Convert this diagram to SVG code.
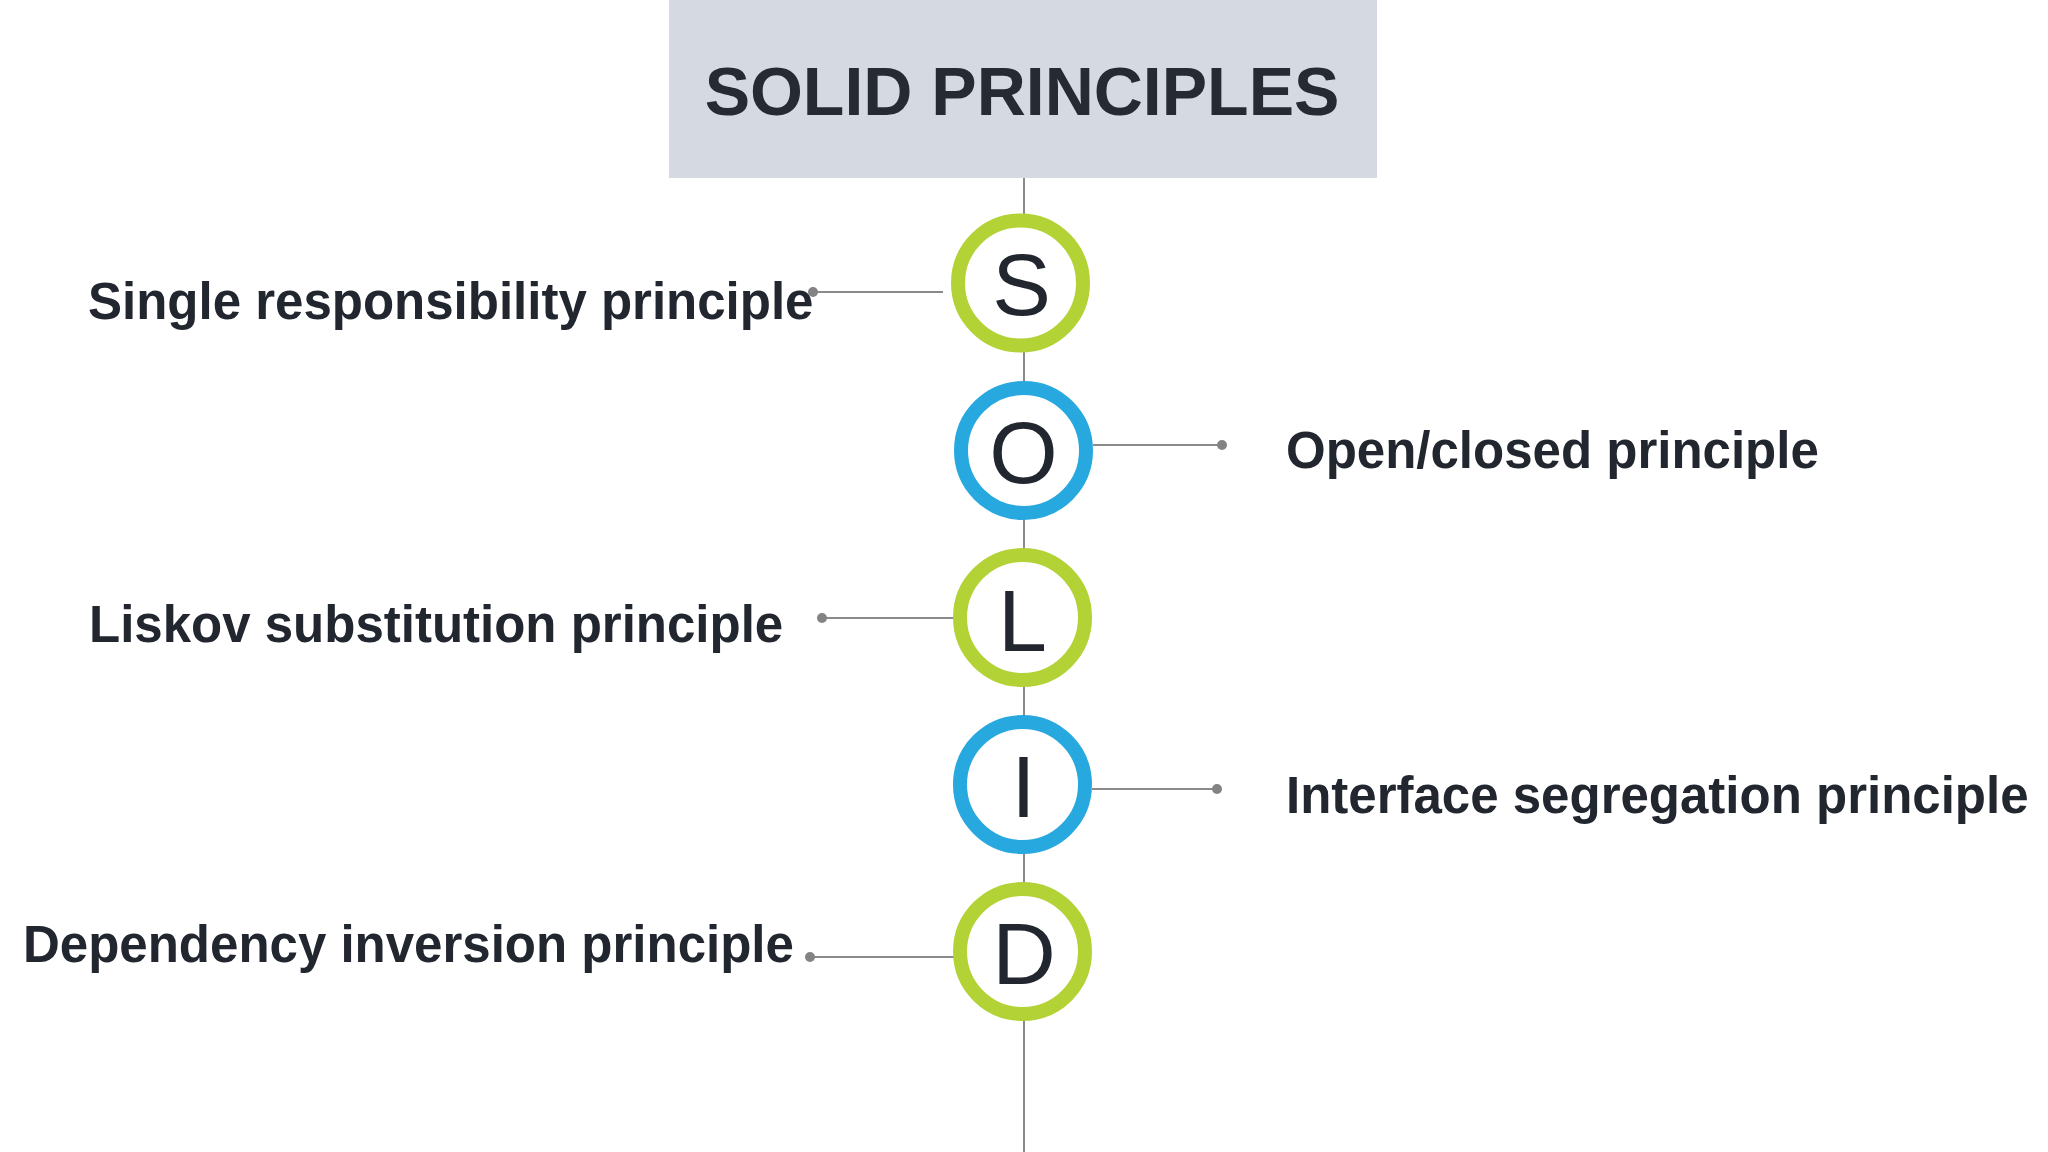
<svg xmlns="http://www.w3.org/2000/svg" width="2048" height="1152" viewBox="0 0 2048 1152">
  <defs>
    <style>
      .title { font-family: "Liberation Sans", Arial, sans-serif; font-weight: bold; font-size: 68px; fill: #252a33; }
      .label { font-family: "Liberation Sans", Arial, sans-serif; font-weight: bold; font-size: 51px; fill: #22262f; }
      .letter { font-family: "Liberation Sans", Arial, sans-serif; font-size: 88px; fill: #22262f; text-anchor: middle; }
      .ring { fill: #ffffff; stroke-width: 14; }
      .green { stroke: #b3d236; }
      .blue { stroke: #27a9e0; }
      .conn { stroke: #8a8a8a; stroke-width: 2; fill: none; }
      .dot { fill: #838383; }
    </style>
  </defs>
  <rect width="2048" height="1152" fill="#ffffff"/>

  <g id="title">
    <rect x="669" y="0" width="708" height="178" fill="#d5dae2"/>
    <text class="title" x="1022" y="115" text-anchor="middle">SOLID PRINCIPLES</text>
  </g>

  <g id="connectors">
    <line class="conn" x1="1024" y1="178" x2="1024" y2="1152"/>
    <line class="conn" x1="813" y1="292" x2="943" y2="292"/>
    <circle class="dot" cx="813" cy="292" r="5"/>
    <line class="conn" x1="1093" y1="445" x2="1222" y2="445"/>
    <circle class="dot" cx="1222" cy="445" r="5"/>
    <line class="conn" x1="822" y1="618" x2="953" y2="618"/>
    <circle class="dot" cx="822" cy="618" r="5"/>
    <line class="conn" x1="1092" y1="789" x2="1217" y2="789"/>
    <circle class="dot" cx="1217" cy="789" r="5"/>
    <line class="conn" x1="810" y1="957" x2="960" y2="957"/>
    <circle class="dot" cx="810" cy="957" r="5"/>
  </g>

  <g id="node-s">
    <circle class="ring green" cx="1020.5" cy="283" r="62.5"/>
    <text class="letter" x="1021.5" y="315">S</text>
  </g>
  <g id="node-o">
    <circle class="ring blue" cx="1023.5" cy="450.5" r="62.5"/>
    <text class="letter" x="1023.5" y="482.5">O</text>
  </g>
  <g id="node-l">
    <circle class="ring green" cx="1022.5" cy="617.5" r="62.5"/>
    <text class="letter" x="1022.5" y="651">L</text>
  </g>
  <g id="node-i">
    <circle class="ring blue" cx="1022.5" cy="784.5" r="62.5"/>
    <text class="letter" x="1023.5" y="817">I</text>
  </g>
  <g id="node-d">
    <circle class="ring green" cx="1022.5" cy="951.5" r="62.5"/>
    <text class="letter" x="1024" y="984">D</text>
  </g>

  <g id="label-s">
    <text class="label" x="88" y="319">Single responsibility principle</text>
  </g>
  <g id="label-o">
    <text class="label" x="1286" y="468">Open/closed principle</text>
  </g>
  <g id="label-l">
    <text class="label" x="89" y="642">Liskov substitution principle</text>
  </g>
  <g id="label-i">
    <text class="label" x="1286" y="813">Interface segregation principle</text>
  </g>
  <g id="label-d">
    <text class="label" x="23" y="962">Dependency inversion principle</text>
  </g>
</svg>
